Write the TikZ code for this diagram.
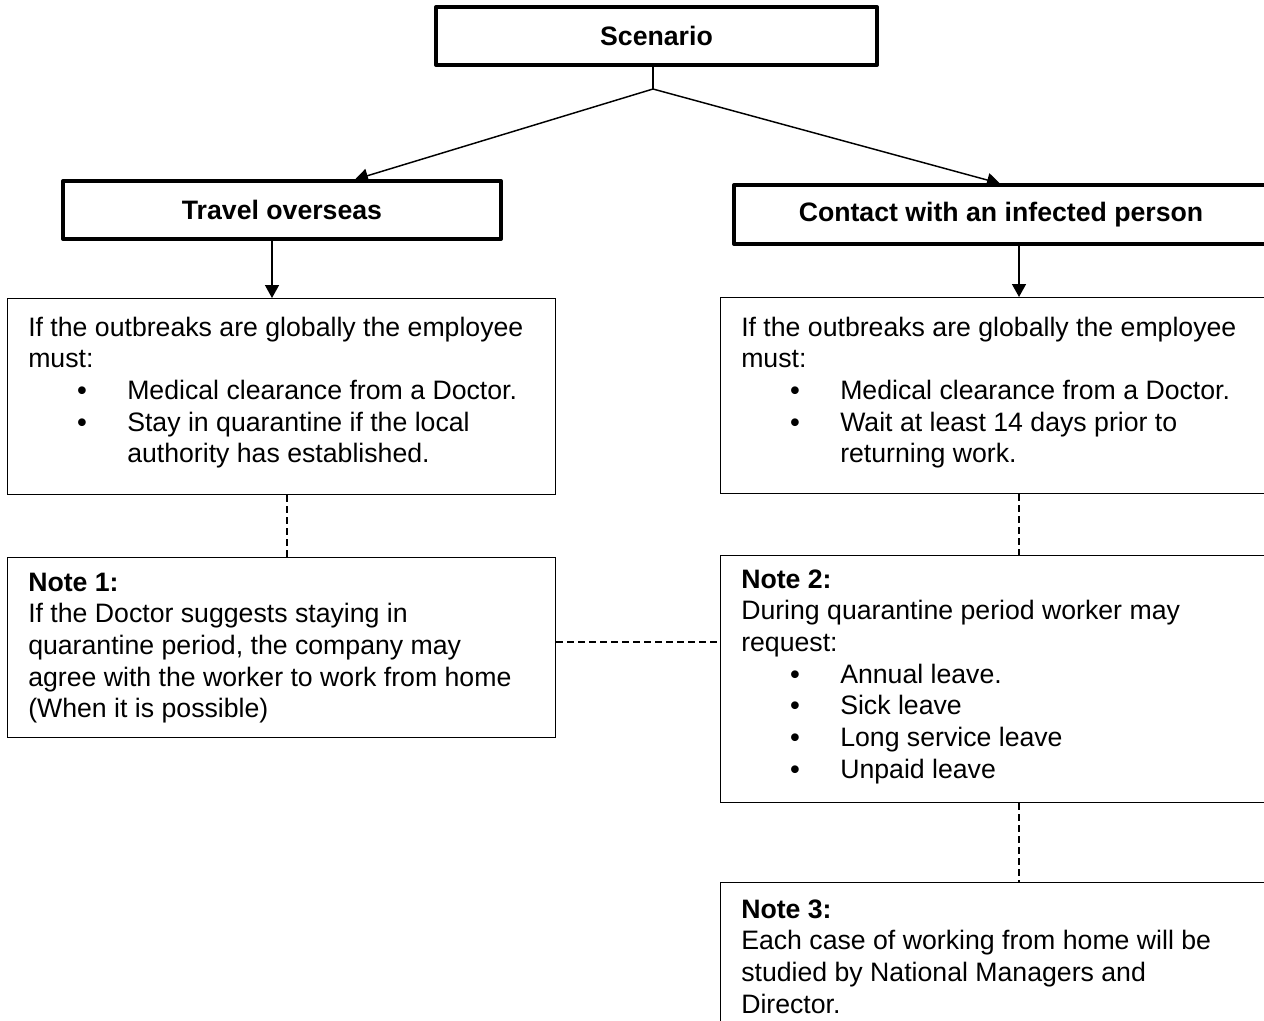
\documentclass[tikz,border=0pt]{standalone}
\usepackage{fontspec}
\setmainfont{Liberation Sans}
\usetikzlibrary{arrows.meta}
\newcommand{\bulline}[1]{\par{\leftskip=74.25pt\noindent\llap{\makebox[37.5pt][l]{\textbf{•}}}#1\par}}
\begin{document}
\begin{tikzpicture}[x=0.75pt,y=-0.75pt,
  thickbox/.style={draw, line width=3pt, line join=round, inner sep=0pt, font=\bfseries\fontsize{20}{23.75}\selectfont},
  thinbox/.style={draw, line width=1pt, inner sep=0pt, anchor=north west},
  txt/.style={inner sep=0pt, anchor=base west, font=\fontsize{20}{23.75}\selectfont},
  conn/.style={line width=1.1pt},
  arr/.style={conn, -{Triangle[length=9.75pt,width=10.5pt]}},
  dashline/.style={line width=1pt, dash pattern=on 5.25pt off 3pt}]
\useasboundingbox (0,0) rectangle (1264,1021);
\clip (0,0) rectangle (1264,1021);

% headline boxes
\node[thickbox, minimum width=330.75pt, minimum height=43.5pt] (scen) at (656.5,36) {Scenario};
\node[thickbox, minimum width=328.5pt, minimum height=43.5pt] (travel) at (282,210) {Travel overseas};
\node[thickbox, minimum width=400.5pt, minimum height=44.25pt] (contact) at (1001,214.5) {Contact with an infected person};

% text boxes
\node[thinbox, minimum width=411pt, minimum height=147pt] (box1) at (7,298) {};
\node[thinbox, minimum width=411pt, minimum height=135pt] (note1) at (7,557) {};
\node[thinbox, minimum width=412.5pt, minimum height=147pt] (box2) at (720,297) {};
\node[thinbox, minimum width=412.5pt, minimum height=185.25pt] (note2) at (720,555) {};
\node[thinbox, minimum width=412.5pt, minimum height=118.5pt] (note3) at (720,882) {};

% texts
\node[txt] (t1) at (28,336) {\parbox[t]{380pt}{If the outbreaks are globally the employee\\ must:\bulline{Medical clearance from a Doctor.}\bulline{Stay in quarantine if the local\\ authority has established.}}};
\node[txt] (tn1) at (28,591) {\parbox[t]{380pt}{\textbf{Note 1:}\\ If the Doctor suggests staying in\\ quarantine period, the company may\\ agree with the worker to work from home\\ (When it is possible)}};
\node[txt] (t2) at (741,336) {\parbox[t]{380pt}{If the outbreaks are globally the employee\\ must:\bulline{Medical clearance from a Doctor.}\bulline{Wait at least 14 days prior to\\ returning work.}}};
\node[txt] (tn2) at (741,588) {\parbox[t]{380pt}{\textbf{Note 2:}\\ During quarantine period worker may\\ request:\bulline{Annual leave.}\bulline{Sick leave}\bulline{Long service leave}\bulline{Unpaid leave}}};
\node[txt] (tn3) at (741,918) {\parbox[t]{380pt}{\textbf{Note 3:}\\ Each case of working from home will be\\ studied by National Managers and\\ Director.}};

% connectors
\coordinate (split) at (653,89);
\coordinate (tipL) at (355,179.5);
\coordinate (tipR) at (1000,183.5);
\coordinate (dL) at (272,0);
\coordinate (dR) at (1019,0);
\coordinate (dN) at (287,0);
\coordinate (hN) at (0,642);
\draw[conn] (split |- scen.south) -- (split);
\draw[arr] (split) -- (tipL);
\draw[arr] (split) -- (tipR);
\draw[arr] (dL |- travel.south) -- (dL |- box1.north);
\draw[arr] (dR |- contact.south) -- (dR |- box2.north);
\draw[dashline] (dN |- box1.south) -- (dN |- note1.north);
\draw[dashline] (dR |- box2.south) -- (dR |- note2.north);
\draw[dashline] (dR |- note2.south) -- (dR |- note3.north);
\draw[dashline] (note1.east |- hN) -- (note2.west |- hN);
\end{tikzpicture}
\end{document}
